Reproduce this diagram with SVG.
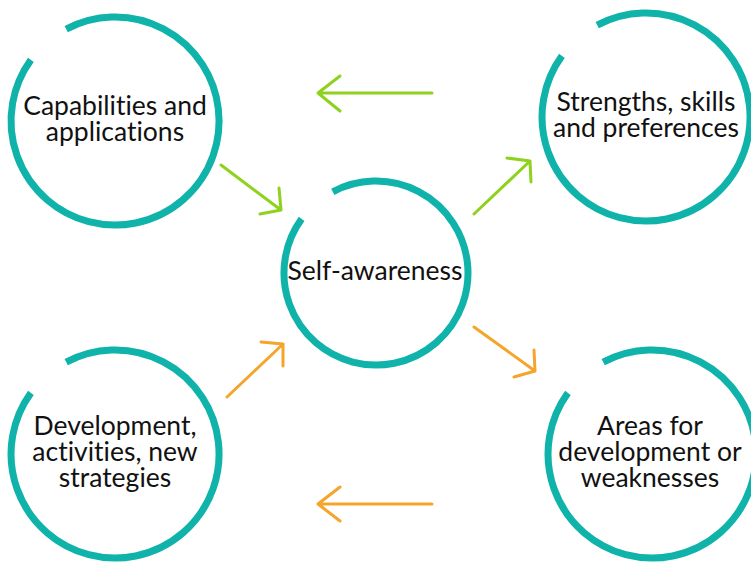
<svg xmlns="http://www.w3.org/2000/svg" width="751" height="563" viewBox="0 0 751 563">
<style>
.ring{fill:none;stroke:#0fb3a9;stroke-width:7}
.lbl{font-family:Lato,"Open Sans","Liberation Sans",sans-serif;font-size:26.5px;fill:#111;text-anchor:middle;font-variant-ligatures:none}
.g{fill:none;stroke:#8fd21e;stroke-width:3;stroke-linecap:round;stroke-linejoin:round}
.o{fill:none;stroke:#f5a52c;stroke-width:3;stroke-linecap:round;stroke-linejoin:round}
</style>
<rect width="751" height="563" fill="#fff"/>
<g id="capabilities">
<path class="ring" d="M66.2,29.2 A104,104 0 1 1 30.9,59.9"/>
<text class="lbl" x="115" y="115">Capabilities and</text>
<text class="lbl" x="115" y="141">applications</text>
</g>
<g id="strengths">
<path class="ring" d="M597.2,25.2 A104,104 0 1 1 561.9,55.9"/>
<text class="lbl" x="646" y="111">Strengths, skills</text>
<text class="lbl" x="646" y="137">and preferences</text>
</g>
<g id="self-awareness">
<path class="ring" d="M332.8,191.8 A92,92 0 1 1 301.6,218.9"/>
<text class="lbl" x="375" y="280">Self-awareness</text>
</g>
<g id="development">
<path class="ring" d="M66.2,362.2 A104,104 0 1 1 30.9,392.9"/>
<text class="lbl" x="115" y="435">Development,</text>
<text class="lbl" x="115" y="461">activities, new</text>
<text class="lbl" x="115" y="487">strategies</text>
</g>
<g id="areas">
<path class="ring" d="M603.2,362.2 A104,104 0 1 1 567.9,392.9"/>
<text class="lbl" x="650" y="435">Areas for</text>
<text class="lbl" x="650" y="461">development or</text>
<text class="lbl" x="650" y="487">weaknesses</text>
</g>
<g id="connectors">
<path class="g" d="M432,93 L318,93 M340,76 L318,93 L340,111"/>
<path class="g" d="M221,165 L281,210 M279,188 L281,210 L260,214"/>
<path class="g" d="M474,214 L530,161 M507,158 L530,161 L531,182"/>
<path class="o" d="M227,397 L283,344 M261,342 L283,344 L283,366"/>
<path class="o" d="M474,327 L535,371 M534,350 L535,371 L514,377"/>
<path class="o" d="M432,504 L318,504 M340,487 L318,504 L340,521"/>
</g>
</svg>
